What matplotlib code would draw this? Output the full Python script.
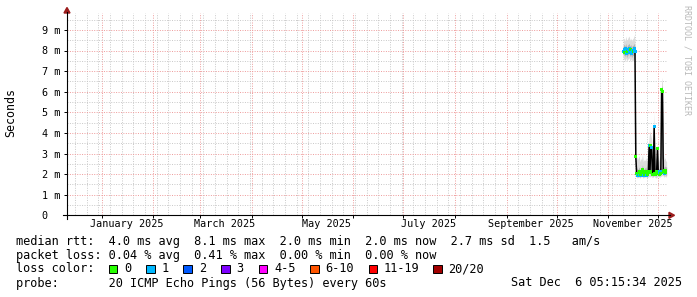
import matplotlib
matplotlib.use("Agg")
import matplotlib.pyplot as plt
import matplotlib.dates as mdates
from matplotlib.patches import Rectangle, Polygon
from matplotlib.lines import Line2D
from datetime import datetime, timedelta

# ---------------- data ----------------
range_start = datetime(2024, 12, 11, 5, 15, 34)
range_end = datetime(2025, 12, 6, 5, 15, 34)
sample_start = datetime(2025, 11, 10, 0, 0)
sample_step_hours = 12

median_ms = [7.95, 8.05, 7.90, 8.10, 7.85, 7.95, 8.05, 8.10, 7.90, 8.05, 7.85, 8.00, 7.95, 8.10, 7.95,
             2.85, 2.05, 1.95, 2.00, 2.10, 1.95, 2.00, 2.05, 2.20, 1.95, 2.00, 2.05, 2.10, 1.95, 2.00,
             2.10, 3.40, 2.10, 3.40, 3.30, 2.00,
             2.00, 4.30, 2.05, 2.00, 2.10,
             3.25, 2.05, 2.00, 2.10, 2.05,
             6.10, 6.00, 2.10, 2.05, 2.15, 2.10, 2.10]
smoke_max = [8.55, 8.60, 8.45, 8.70, 8.50, 8.55, 8.65, 8.70, 8.50, 8.60, 8.45, 8.55, 8.60, 8.75, 8.50,
             3.00, 2.85, 2.70, 2.80, 2.90, 2.60, 2.75, 2.70, 2.95, 2.60, 2.70, 2.65, 2.80, 2.60, 2.75,
             3.20, 3.80, 4.10, 3.90, 3.70, 2.80,
             2.90, 5.00, 3.00, 2.70, 2.80,
             3.50, 2.90, 2.60, 2.80, 3.00,
             6.70, 6.40, 3.00, 2.70, 2.80, 2.65, 2.60]
smoke_min = [7.55, 7.60, 7.45, 7.65, 7.50, 7.55, 7.60, 7.65, 7.45, 7.60, 7.50, 7.55, 7.50, 7.60, 7.55,
             1.90, 1.85, 1.80, 1.85, 1.85, 1.80, 1.85, 1.90, 1.85, 1.80, 1.85, 1.85, 1.90, 1.80, 1.85,
             1.85, 1.90, 1.85, 1.90, 1.85, 1.85,
             1.85, 1.90, 1.85, 1.80, 1.85,
             1.85, 1.90, 1.85, 1.85, 1.90,
             1.90, 1.95, 1.90, 1.85, 1.90, 1.85, 1.90]
inner_hi = [8.25, 8.30, 8.20, 8.35, 8.15, 8.25, 8.30, 8.35, 8.20, 8.30, 8.15, 8.25, 8.25, 8.35, 8.20,
            2.60, 2.30, 2.20, 2.25, 2.35, 2.20, 2.25, 2.30, 2.45, 2.20, 2.25, 2.30, 2.35, 2.20, 2.25,
            2.60, 3.50, 3.20, 3.50, 3.40, 2.30,
            2.25, 4.50, 2.30, 2.25, 2.35,
            3.30, 2.30, 2.25, 2.35, 2.30,
            6.30, 6.20, 2.40, 2.30, 2.40, 2.35, 2.35]
inner_lo = [7.75, 7.80, 7.70, 7.85, 7.65, 7.75, 7.80, 7.85, 7.70, 7.80, 7.65, 7.75, 7.75, 7.85, 7.70,
            1.95, 1.90, 1.85, 1.90, 1.95, 1.85, 1.90, 1.95, 2.00, 1.85, 1.90, 1.95, 1.95, 1.85, 1.90,
            1.95, 2.20, 1.95, 2.20, 2.20, 1.90,
            1.90, 2.60, 1.95, 1.90, 1.95,
            2.00, 1.95, 1.90, 1.95, 1.95,
            2.80, 2.70, 1.95, 1.95, 2.00, 1.95, 1.95]
loss = [1, 1, 0, 1, 1, 0, 1, 1, 1, 0, 1, 1, 0, 1, 1,
        0, 0, 1, 0, 0, 1, 0, 0, 0, 1, 0, 0, 0, 1, 0,
        0, 1, 0, 0, 1, 0,
        0, 1, 0, 0, 0,
        0, 0, 0, 1, 0,
        0, 0, 0, 1, 0, 0, 0]

loss_labels = ["0", "1", "2", "3", "4-5", "6-10", "11-19", "20/20"]
loss_colors = ["#26ff00", "#00b8ff", "#0059ff", "#7e00ff", "#ff00ff", "#ff5500", "#ff0000", "#a10000"]

y_ticks = [0, 1, 2, 3, 4, 5, 6, 7, 8, 9]
month_labels = ["January 2025", "March 2025", "May 2025", "July 2025", "September 2025", "November 2025"]
month_label_dates = [datetime(2025, 1, 16), datetime(2025, 3, 16), datetime(2025, 5, 16),
                     datetime(2025, 7, 16), datetime(2025, 9, 15, 12), datetime(2025, 11, 15, 12)]

row1 = "median rtt:  4.0 ms avg  8.1 ms max  2.0 ms min  2.0 ms now  2.7 ms sd  1.5   am/s"
row2 = "packet loss: 0.04 % avg  0.41 % max  0.00 % min  0.00 % now"
row3 = "loss color:"
row4 = "probe:       20 ICMP Echo Pings (56 Bytes) every 60s"
stamp = "Sat Dec  6 05:15:34 2025"

times = [sample_start + timedelta(hours=sample_step_hours * i) for i in range(len(median_ms))]

# ---------------- figure ----------------
W, H = 697, 297
fig = plt.figure(figsize=(W / 100, H / 100), dpi=100)
fig.patch.set_facecolor("white")

def fx(x):
    return x / W

def fy(y):
    return 1 - y / H

left, right, bottom, top = 67, 667, 215.3, 13
ax = fig.add_axes([fx(left), fy(bottom), (right - left) / W, (bottom - top) / H])
ax.set_facecolor("white")
ax.set_xlim(range_start, range_end)
ymax = (bottom - top) / 20.6
ax.set_ylim(0, ymax)
for s in ax.spines.values():
    s.set_visible(False)

MONO = "DejaVu Sans Mono"

# grid
ax.xaxis.set_major_locator(mdates.MonthLocator())
ax.xaxis.set_minor_locator(mdates.WeekdayLocator(byweekday=mdates.MO))
ax.set_yticks(y_ticks)
ax.set_yticks([v + 0.5 for v in y_ticks], minor=True)
ax.grid(which="minor", color="#c8c8c8", linestyle=(0, (1, 1.5)), linewidth=0.7)
ax.grid(which="major", color="#ee9a9a", linestyle=(0, (1, 1.5)), linewidth=0.7)
ax.set_axisbelow(True)
ax.tick_params(axis="x", which="major", length=2, width=0.7, direction="out", labelbottom=False)
ax.tick_params(axis="x", which="minor", length=0)
ax.tick_params(axis="y", which="major", length=2, width=0.7, direction="out", pad=2.6)
ax.tick_params(axis="y", which="minor", length=0)
ax.set_yticklabels([("%d m" % v) if v > 0 else "0  " for v in y_ticks], fontfamily=MONO, fontsize=7.3)

label_y = -(224.3 - bottom) / (bottom - top)
for d, lab in zip(month_label_dates, month_labels):
    ax.text(d, label_y, lab, transform=ax.get_xaxis_transform(), ha="center", va="center",
            fontfamily=MONO, fontsize=7.3)

# smoke
ax.fill_between(times, smoke_min, smoke_max, color="#dcdcdc", linewidth=0, zorder=2)
ax.fill_between(times, inner_lo, inner_hi, color="#b4b4b4", linewidth=0, zorder=2)
# median
ax.plot(times, median_ms, color="black", linewidth=1.1, zorder=3)
ax.scatter(times, median_ms, c=[loss_colors[l] for l in loss], marker="s", s=5, linewidths=0, zorder=4)

# axis lines and arrows
arrow_c = "#9b1c1c"
fig.add_artist(Line2D([fx(67), fx(67)], [fy(219), fy(12)], color="black", linewidth=0.8))
fig.add_artist(Line2D([fx(63), fx(670)], [fy(215.3), fy(215.3)], color="black", linewidth=0.8))
fig.add_artist(Polygon([[fx(669), fy(212.3)], [fx(674.5), fy(215.3)], [fx(669), fy(218.3)]],
                       closed=True, color=arrow_c, transform=fig.transFigure))
fig.add_artist(Polygon([[fx(64), fy(13)], [fx(67), fy(7.5)], [fx(70), fy(13)]],
                       closed=True, color=arrow_c, transform=fig.transFigure))

# y label
fig.text(fx(11), fy(113), "Seconds", rotation=90, ha="center", va="center", fontfamily=MONO, fontsize=8.4)

# watermark
fig.text(fx(687), fy(5), "RRDTOOL / TOBI OETIKER", rotation=270, ha="center", va="top",
         fontfamily=MONO, fontsize=6, color="#b8b8b8")

# legend rows
LF = 8.55
fig.text(fx(16), fy(241), row1, ha="left", va="center", fontfamily=MONO, fontsize=LF)
fig.text(fx(16), fy(255), row2, ha="left", va="center", fontfamily=MONO, fontsize=LF)
fig.text(fx(16), fy(269), row3, ha="left", va="center", fontfamily=MONO, fontsize=LF)
fig.text(fx(16), fy(283), row4, ha="left", va="center", fontfamily=MONO, fontsize=LF)
fig.text(fx(682), fy(283), stamp, ha="right", va="center", fontfamily=MONO, fontsize=LF)

sw_x = [108.5, 146, 183.5, 221, 258.5, 310, 368.5, 433]
lab_x = [124, 161.5, 199, 236.5, 274, 325.5, 384, 448.5]
for sx, lx, lab, c in zip(sw_x, lab_x, loss_labels, loss_colors):
    fig.add_artist(Rectangle((fx(sx), fy(273)), 8.5 / W, 8.5 / H, facecolor=c, edgecolor="black",
                             linewidth=0.7, transform=fig.transFigure))
    fig.text(fx(lx), fy(269), lab, ha="left", va="center", fontfamily=MONO, fontsize=LF)

fig.savefig("out.png", dpi=100)
